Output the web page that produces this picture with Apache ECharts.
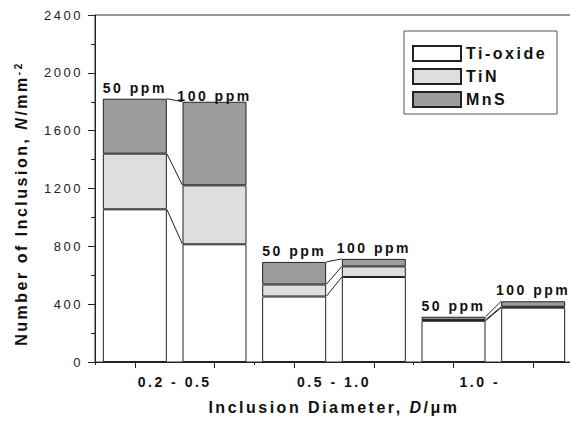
<!DOCTYPE html>
<html><head><meta charset="utf-8">
<script src="https://cdn.jsdelivr.net/npm/echarts@6/dist/echarts.min.js"></script>
<style>
html,body{margin:0;padding:0;background:#fff}
#chart{width:570px;height:421px}
#chart text{letter-spacing:2.5px;white-space:pre}
</style></head><body><div id="chart"></div>
<script>
// ---- data ----
const barSlots = ['0.2-0.5 / 50', '0.2-0.5 / 100', '0.5-1.0 / 50', '0.5-1.0 / 100', '1.0- / 50', '1.0- / 100'];
const barLabels = ['50 ppm', '100 ppm', '50 ppm', '100 ppm', '50 ppm', '100 ppm'];
const groups = ['0.2 - 0.5', '0.5 - 1.0', '1.0 -'];
const seriesNames = ['Ti-oxide', 'TiN', 'MnS'];
const tiOxide = [1056, 814, 453, 588, 285, 376];
const tiN = [385, 408, 83, 73, 6, 6];
const mnS = [380, 578, 156, 52, 22, 38];
const yMin = 0, yMax = 2400, yStep = 400;

// ---- style helpers ----
const LS = 2.5;
const FF = '"Liberation Sans", Arial, Helvetica, sans-serif';
const BAR_W = 64;
const INK = '#111';
const mctx = document.createElement('canvas').getContext('2d');
function tw(text, size, weight, italic, spaced) {
  mctx.font = (italic ? 'italic ' : 'normal ') + weight + ' ' + size + 'px ' + FF;
  return mctx.measureText(text).width + (spaced === false ? 0 : LS * text.length);
}
function tok(text, size, weight, italic, extra) {
  return Object.assign({
    fontSize: size, fontWeight: weight, fontStyle: italic ? 'italic' : 'normal',
    fontFamily: FF, color: INK, width: tw(text, size, weight, italic)
  }, extra || {});
}

// connectors between paired bars (cumulative tops)
const connectors = [];
for (let g = 0; g < 3; g++) {
  const a = 2 * g, b = 2 * g + 1;
  const la = [tiOxide[a], tiOxide[a] + tiN[a], tiOxide[a] + tiN[a] + mnS[a]];
  const lb = [tiOxide[b], tiOxide[b] + tiN[b], tiOxide[b] + tiN[b] + mnS[b]];
  for (let k = 0; k < 3; k++) connectors.push([a, la[k], b, lb[k]]);
}

const chart = echarts.init(document.getElementById('chart'), null, { renderer: 'svg' });
const barStyle = (c) => ({ color: c, borderColor: '#222', borderWidth: 1 });
const legendPadR = 154 - 8 - 48 - 7 - tw('Ti-oxide', 16, 'bold', false, false);

chart.setOption({
  animation: false,
  backgroundColor: '#fff',
  textStyle: { fontFamily: FF },
  grid: { left: 95, top: 15, right: -3, bottom: 59, show: true, borderColor: '#333', borderWidth: 1, outerBoundsMode: 'none' },
  legend: {
    data: seriesNames, orient: 'vertical', left: 404, top: 31,
    icon: 'rect', itemWidth: 48, itemHeight: 15, itemGap: 6, itemTextGap: 7,
    padding: [14, legendPadR, 6, 8], borderColor: '#555', borderWidth: 1,
    textStyle: { fontSize: 16, fontWeight: 'bold', color: INK, fontFamily: FF }
  },
  xAxis: [
    { type: 'category', data: barSlots, position: 'bottom', boundaryGap: true,
      axisLine: { show: true, lineStyle: { color: '#222' } },
      axisTick: { show: true, length: 3, lineStyle: { color: '#222' } },
      axisLabel: { show: false } },
    { type: 'category', data: barSlots, position: 'bottom', boundaryGap: true,
      axisLine: { show: false },
      axisTick: { show: true, alignWithLabel: true, interval: 0, length: 6, lineStyle: { color: '#222' } },
      axisLabel: { show: false } },
    { type: 'category', data: groups.map((g, i) => i === 2 ? { value: g, textStyle: { padding: [0, 27, 0, 0] } } : g),
      position: 'bottom', boundaryGap: true,
      axisLine: { show: false }, axisTick: { show: false },
      axisLabel: { show: true, interval: 0, margin: 13, fontSize: 14, fontWeight: 'bold', color: INK, fontFamily: FF },
      name: '{x1|Inclusion Diameter, }{x2|D}{x3|/\u03bcm}',
      nameLocation: 'middle', nameGap: 37,
      nameTextStyle: { rich: {
          x1: tok('Inclusion Diameter, ', 16, 'bold'),
          x2: tok('D', 16, 'bold', true),
          x3: tok('/\u03bcm', 16, 'bold') } } }
  ],
  yAxis: {
    type: 'value', min: yMin, max: yMax, interval: yStep,
    axisLine: { show: true, lineStyle: { color: '#222' } },
    axisTick: { show: true, length: 7, lineStyle: { color: '#222' } },
    minorTick: { show: true, splitNumber: 2, length: 4, lineStyle: { color: '#222' } },
    splitLine: { show: false },
    axisLabel: { color: '#222', fontSize: 13, fontFamily: FF, margin: 12, formatter: (v) => String(v) },
    name: '{y1|Number of Inclusion, }{y2|N}{y3|/mm}{y4|-2}',
    nameLocation: 'middle', nameGap: 66,
    nameTextStyle: { padding: [0, 30, 0, 0], rich: {
        y1: tok('Number of Inclusion, ', 16, 'bold'),
        y2: tok('N', 16, 'bold', true),
        y3: tok('/mm', 16, 'bold'),
        y4: tok('-2', 10, 'bold', false, { verticalAlign: 'top' }) } }
  },
  series: [
    { name: 'Ti-oxide', type: 'bar', stack: 'total', xAxisIndex: 0, barWidth: BAR_W, itemStyle: barStyle('#ffffff'), data: tiOxide },
    { name: 'TiN', type: 'bar', stack: 'total', xAxisIndex: 0, barWidth: BAR_W, itemStyle: barStyle('#dedede'), data: tiN },
    { name: 'MnS', type: 'bar', stack: 'total', xAxisIndex: 0, barWidth: BAR_W, itemStyle: barStyle('#9c9c9c'),
      label: { show: true, position: 'top', distance: 4, formatter: (p) => barLabels[p.dataIndex],
        fontSize: 14, fontWeight: 'bold', color: INK, fontFamily: FF },
      data: mnS.map((v, i) => i === 1 ? { value: v, label: { offset: [0, 5] } } : v) },
    { type: 'custom', xAxisIndex: 0, yAxisIndex: 0, silent: true, encode: { x: [0, 2], y: [1, 3] }, data: connectors,
      renderItem: (params, api) => {
        const p1 = api.coord([api.value(0), api.value(1)]);
        const p2 = api.coord([api.value(2), api.value(3)]);
        return { type: 'line', shape: { x1: p1[0] + BAR_W / 2, y1: p1[1], x2: p2[0] - BAR_W / 2, y2: p2[1] }, style: { stroke: '#222', lineWidth: 1 } };
      } }
  ]
});
</script></body></html>
